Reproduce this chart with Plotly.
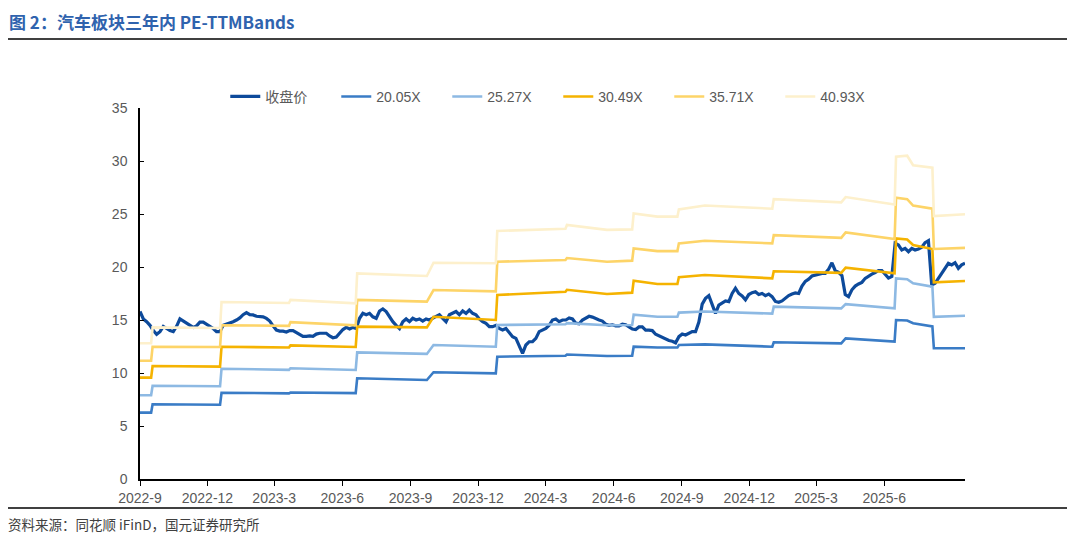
import pandas as pd
import plotly.graph_objects as go

# ---------------- data ----------------
close_start = "2022-09-19"
close_end = "2025-10-06"
close_vals = [
    15.8, 15.1, 14.84, 14.5, 14.0, 13.65, 13.9, 14.4, 14.2, 14.0,
    13.9, 14.4, 15.1, 14.9, 14.75, 14.55, 14.3, 14.45, 14.8, 14.8,
    14.6, 14.45, 14.2, 13.9, 13.9, 14.5, 14.6, 14.7, 14.84, 15.0,
    15.2, 15.5, 15.7, 15.5, 15.48, 15.35, 15.35, 15.3, 15.15, 14.9,
    14.45, 14.05, 13.95, 13.95, 13.87, 14.0, 14.0, 13.82, 13.65, 13.45,
    13.45, 13.5, 13.45, 13.67, 13.75, 13.75, 13.75, 13.5, 13.33, 13.4,
    13.75, 14.1, 14.3, 14.15, 14.3, 14.2, 15.16, 15.63, 15.5, 15.63,
    15.3, 15.16, 15.85, 16.04, 15.8, 15.3, 14.84, 14.5, 14.2, 14.84,
    15.1, 14.84, 15.16, 15.0, 15.1, 14.9, 15.1, 15.0, 15.16, 15.3,
    15.5, 15.16, 14.84, 15.5, 15.63, 15.8, 15.5, 15.85, 15.63, 15.94,
    15.63, 15.5, 15.1, 14.84, 14.68, 14.37, 14.37, 14.5, 14.2, 14.06,
    14.2, 13.75, 13.43, 13.27, 12.64, 11.86, 12.64, 12.95, 12.95, 13.27,
    13.9, 14.06, 14.2, 14.5, 15.0, 15.1, 14.84, 15.0, 15.0, 15.2,
    15.1, 14.7, 14.65, 15.0, 15.2, 15.35, 15.27, 15.1, 15.0, 14.9,
    14.6, 14.5, 14.55, 14.45, 14.45, 14.6, 14.55, 14.35, 14.15, 14.1,
    14.35, 14.35, 14.05, 14.05, 14.0, 13.65, 13.5, 13.3, 13.14, 13.07,
    13.0, 12.85, 13.43, 13.68, 13.58, 13.75, 13.9, 13.9, 14.8, 16.5,
    17.04, 17.3, 16.5, 15.63, 16.4, 16.57, 16.8, 16.73, 17.5, 18.0,
    17.5, 17.26, 16.9, 17.4, 17.58, 17.67, 17.4, 17.5, 17.3, 17.45,
    17.2, 16.75, 16.67, 16.8, 17.1, 17.3, 17.45, 17.55, 17.5, 18.2,
    18.65, 18.85, 19.15, 19.25, 19.3, 19.4, 19.4, 19.8, 20.4, 19.65,
    19.5, 19.2, 17.4, 17.2, 17.85, 18.2, 18.4, 18.55, 18.93, 19.17,
    19.33, 19.48, 19.67, 19.67, 19.33, 18.95, 19.1, 22.23, 22.07, 21.6,
    21.76, 21.44, 21.76, 21.6, 21.7, 21.86, 22.3, 22.48, 18.3, 18.46,
    18.93, 19.4, 19.78, 20.35, 20.2, 20.4, 19.87, 20.2, 20.35,
]

band_dates = [
    "2022-09-19", "2022-10-04", "2022-10-06", "2023-01-05", "2023-01-07",
    "2023-04-08", "2023-04-10", "2023-07-07", "2023-07-09", "2023-10-11",
    "2023-10-20", "2024-01-12", "2024-01-14", "2024-04-15", "2024-04-17",
    "2024-06-10", "2024-07-14", "2024-07-16", "2024-08-17", "2024-09-13",
    "2024-09-15", "2024-10-20", "2025-01-19", "2025-01-21", "2025-04-22",
    "2025-04-28", "2025-07-03", "2025-07-05", "2025-07-20", "2025-07-28",
    "2025-08-23", "2025-08-25", "2025-10-06",
]
band_2005 = [
    6.26, 6.26, 7.05, 7.0, 8.14, 8.08, 8.16, 8.1, 9.5, 9.34,
    10.07, 9.97, 11.54, 11.63, 11.75, 11.6, 11.63, 12.48, 12.4, 12.4,
    12.64, 12.7, 12.48, 12.9, 12.8, 13.27, 12.96, 15.0, 14.95, 14.7,
    14.4, 12.33, 12.33,
]
band_2527 = [
    7.9, 7.9, 8.8, 8.75, 10.4, 10.3, 10.45, 10.28, 11.95, 11.8,
    12.64, 12.48, 14.53, 14.6, 14.7, 14.5, 14.53, 15.5, 15.3, 15.3,
    15.7, 15.8, 15.6, 16.26, 16.1, 16.5, 16.1, 18.93, 18.85, 18.46,
    18.14, 15.3, 15.4,
]
band_3049 = [
    9.56, 9.56, 10.66, 10.6, 12.48, 12.4, 12.6, 12.45, 14.37, 14.3,
    15.3, 15.0, 17.36, 17.67, 17.85, 17.45, 17.58, 18.7, 18.4, 18.4,
    19.03, 19.25, 18.93, 19.6, 19.45, 19.93, 19.4, 22.7, 22.6, 22.07,
    21.7, 18.55, 18.68,
]
band_3571 = [
    11.16, 11.16, 12.48, 12.45, 14.5, 14.45, 14.8, 14.5, 16.9, 16.73,
    17.83, 17.7, 20.5, 20.66, 20.85, 20.5, 20.6, 21.76, 21.5, 21.5,
    22.23, 22.48, 22.23, 23.0, 22.75, 23.27, 22.64, 26.54, 26.4, 25.8,
    25.5, 21.7, 21.8,
]
band_4093 = [
    12.8, 12.8, 14.3, 14.25, 16.7, 16.6, 16.9, 16.57, 19.4, 19.15,
    20.4, 20.35, 23.4, 23.6, 23.96, 23.5, 23.55, 25.06, 24.75, 24.75,
    25.44, 25.8, 25.5, 26.4, 26.1, 26.6, 25.9, 30.4, 30.5, 29.6,
    29.37, 24.8, 24.97,
]

series_names = ["收盘价", "20.05X", "25.27X", "30.49X", "35.71X", "40.93X"]
series_colors = ["#0D4A9B", "#3A7CC6", "#8DB9E3", "#F5B301", "#FDD468", "#FDF0CC"]
y_ticks = [0, 5, 10, 15, 20, 25, 30, 35]
x_tick_dates = [
    "2022-09-19", "2022-12-19", "2023-03-19", "2023-06-19", "2023-09-19", "2023-12-19",
    "2024-03-19", "2024-06-19", "2024-09-19", "2024-12-19", "2025-03-19", "2025-06-19",
]
x_tick_labels = [
    "2022-9", "2022-12", "2023-3", "2023-6", "2023-9", "2023-12",
    "2024-3", "2024-6", "2024-9", "2024-12", "2025-3", "2025-6",
]

title_text = "图 2：汽车板块三年内 PE-TTMBands"
source_text = "资料来源：同花顺 iFinD，国元证券研究所"

# ---------------- figure ----------------
close_dates = pd.date_range(close_start, close_end, periods=len(close_vals))

fig = go.Figure()
fig.add_trace(go.Scatter(
    x=close_dates, y=close_vals, mode="lines", name=series_names[0],
    line=dict(color=series_colors[0], width=3.2),
))
bands = [band_2005, band_2527, band_3049, band_3571, band_4093]
for name, color, vals in zip(series_names[1:], series_colors[1:], bands):
    fig.add_trace(go.Scatter(
        x=pd.to_datetime(band_dates), y=vals, mode="lines", name=name,
        line=dict(color=color, width=2.6),
    ))

tick_font = dict(family="Liberation Sans, Arial, sans-serif", size=14, color="#595959")

# page body has an 8px offset; figure is sized so it fits the 1075x537 window
PW, PH = 1067, 529
fig.update_layout(
    width=PW, height=PH,
    margin=dict(l=132, r=110, t=100, b=58, autoexpand=False),
    paper_bgcolor="white", plot_bgcolor="white",
    showlegend=True,
    legend=dict(
        orientation="h", x=0.507, xanchor="center", y=1.03, yanchor="middle",
        font=dict(family="Liberation Sans, Noto Sans CJK SC, sans-serif",
                  size=14, color="#595959"),
        entrywidth=66, entrywidthmode="pixels",
        bgcolor="rgba(0,0,0,0)",
    ),
    xaxis=dict(
        type="date",
        range=[close_start, close_end],
        tickvals=x_tick_dates, ticktext=x_tick_labels,
        showgrid=False, zeroline=False,
        showline=True, linecolor="#000000", linewidth=1.5,
        ticks="outside", ticklen=5, tickcolor="#000000", tickwidth=1,
        tickfont=tick_font,
    ),
    yaxis=dict(
        range=[0, 35], tickvals=y_ticks,
        showgrid=False, zeroline=False,
        showline=True, linecolor="#000000", linewidth=1.5,
        ticks="inside", ticklen=4, tickcolor="#000000", tickwidth=1,
        tickfont=tick_font,
        ticklabelstandoff=8,
    ),
    font=dict(family="Noto Sans CJK SC, sans-serif"),
)

# title + separators + source (positions relative to the plot area)
fig.add_annotation(
    text=title_text, xref="paper", yref="paper",
    x=(0 - 132) / 825, y=(471 - 0) / 371, xanchor="left", yanchor="top",
    showarrow=False, borderpad=0,
    font=dict(family="Noto Sans CJK SC, sans-serif", size=17, color="#2F63AE", weight="bold"),
)
fig.add_annotation(
    text=source_text, xref="paper", yref="paper",
    x=(-2 - 132) / 825, y=(471 - 516) / 371, xanchor="left", yanchor="middle",
    showarrow=False,
    font=dict(family="Noto Sans CJK SC, sans-serif", size=13.5, color="#404040"),
)
fig.add_shape(type="line", xref="paper", yref="paper",
              x0=(-8 - 132) / 825, x1=(1062 - 132) / 825,
              y0=(471 - 31) / 371, y1=(471 - 31) / 371,
              line=dict(color="#000000", width=1.5))
fig.add_shape(type="line", xref="paper", yref="paper",
              x0=(-8 - 132) / 825, x1=(1062 - 132) / 825,
              y0=(471 - 500) / 371, y1=(471 - 500) / 371,
              line=dict(color="#000000", width=1.5))

fig.write_html("out.html")
